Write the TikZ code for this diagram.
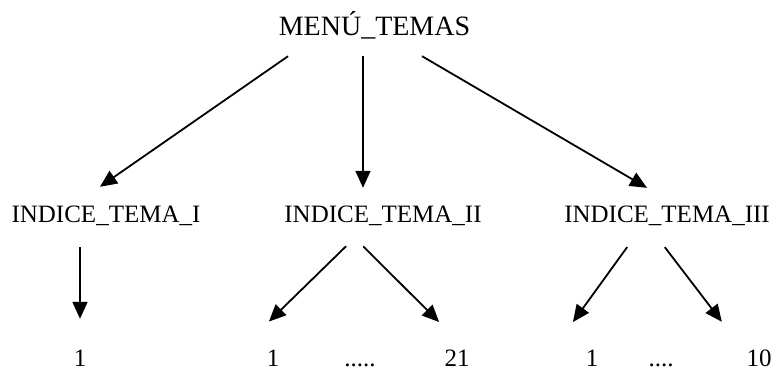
\documentclass[tikz,border=0pt]{standalone}
\usepackage{fontspec}
\setmainfont{Liberation Serif}
\usetikzlibrary{arrows.meta}
\begin{document}
\begin{tikzpicture}[x=1pt,y=-1pt,
  lbl/.style={inner sep=0pt, anchor=base, font=\fontsize{25}{30}\selectfont,
              text height=17pt, text depth=3pt},
  title/.style={lbl, font=\fontsize{28}{34}\selectfont, text height=24pt},
  num/.style={lbl, text depth=0pt},
  arr/.style={-{Triangle[length=17pt,width=15pt]}, line width=1.8pt}]
\useasboundingbox (0,0) rectangle (777,370);

% menu and topic indices
\node[title] (menu) at (374.5,35) {MENÚ\_TEMAS};
\node[lbl] (t1) at (106,222) {INDICE\_TEMA\_I};
\node[lbl] (t2) at (383,222) {INDICE\_TEMA\_II};
\node[lbl] (t3) at (667,222) {INDICE\_TEMA\_III};

% pages of each topic
\node[num] (n1)  at (80,366)  {1};
\node[num] (n2a) at (273,366) {1};
\node[num] (d2)  at (360,366) {.....};
\node[num] (n2b) at (457,366) {21};
\node[num] (n3a) at (592,366) {1};
\node[num] (d3)  at (661,366) {....};
\node[num] (n3b) at (759,366) {10};

% menu to topics
\draw[arr, shorten <=31.6pt, shorten >=31.6pt]
  ([xshift=-60.5pt]menu.south) -- ([xshift=-32pt]t1.north);
\draw[arr, shorten <=18pt, shorten >=17pt]
  ([xshift=-11.5pt]menu.south) -- ([xshift=-20pt]t2.north);
\draw[arr, shorten <=35.6pt, shorten >=33.6pt]
  ([xshift=16.8pt]menu.south) -- ([xshift=9pt]t3.north);

% topics to pages
\draw[arr, shorten <=22pt, shorten >=30pt]
  ([xshift=-26pt]t1.south) -- (n1.north);
\draw[arr, shorten <=30pt, shorten >=39pt]
  ([xshift=-15.4pt]t2.south) -- ([xshift=-32pt]n2a.north);
\draw[arr, shorten <=30pt, shorten >=38pt]
  ([xshift=-41pt]t2.south) -- ([xshift=9pt]n2b.north);
\draw[arr, shorten <=27pt, shorten >=33pt]
  ([xshift=-24pt]t3.south) -- ([xshift=-38.4pt]n3a.north);
\draw[arr, shorten <=27.6pt, shorten >=34pt]
  ([xshift=-19pt]t3.south) -- ([xshift=-16.5pt]n3b.north);
\end{tikzpicture}
\end{document}
